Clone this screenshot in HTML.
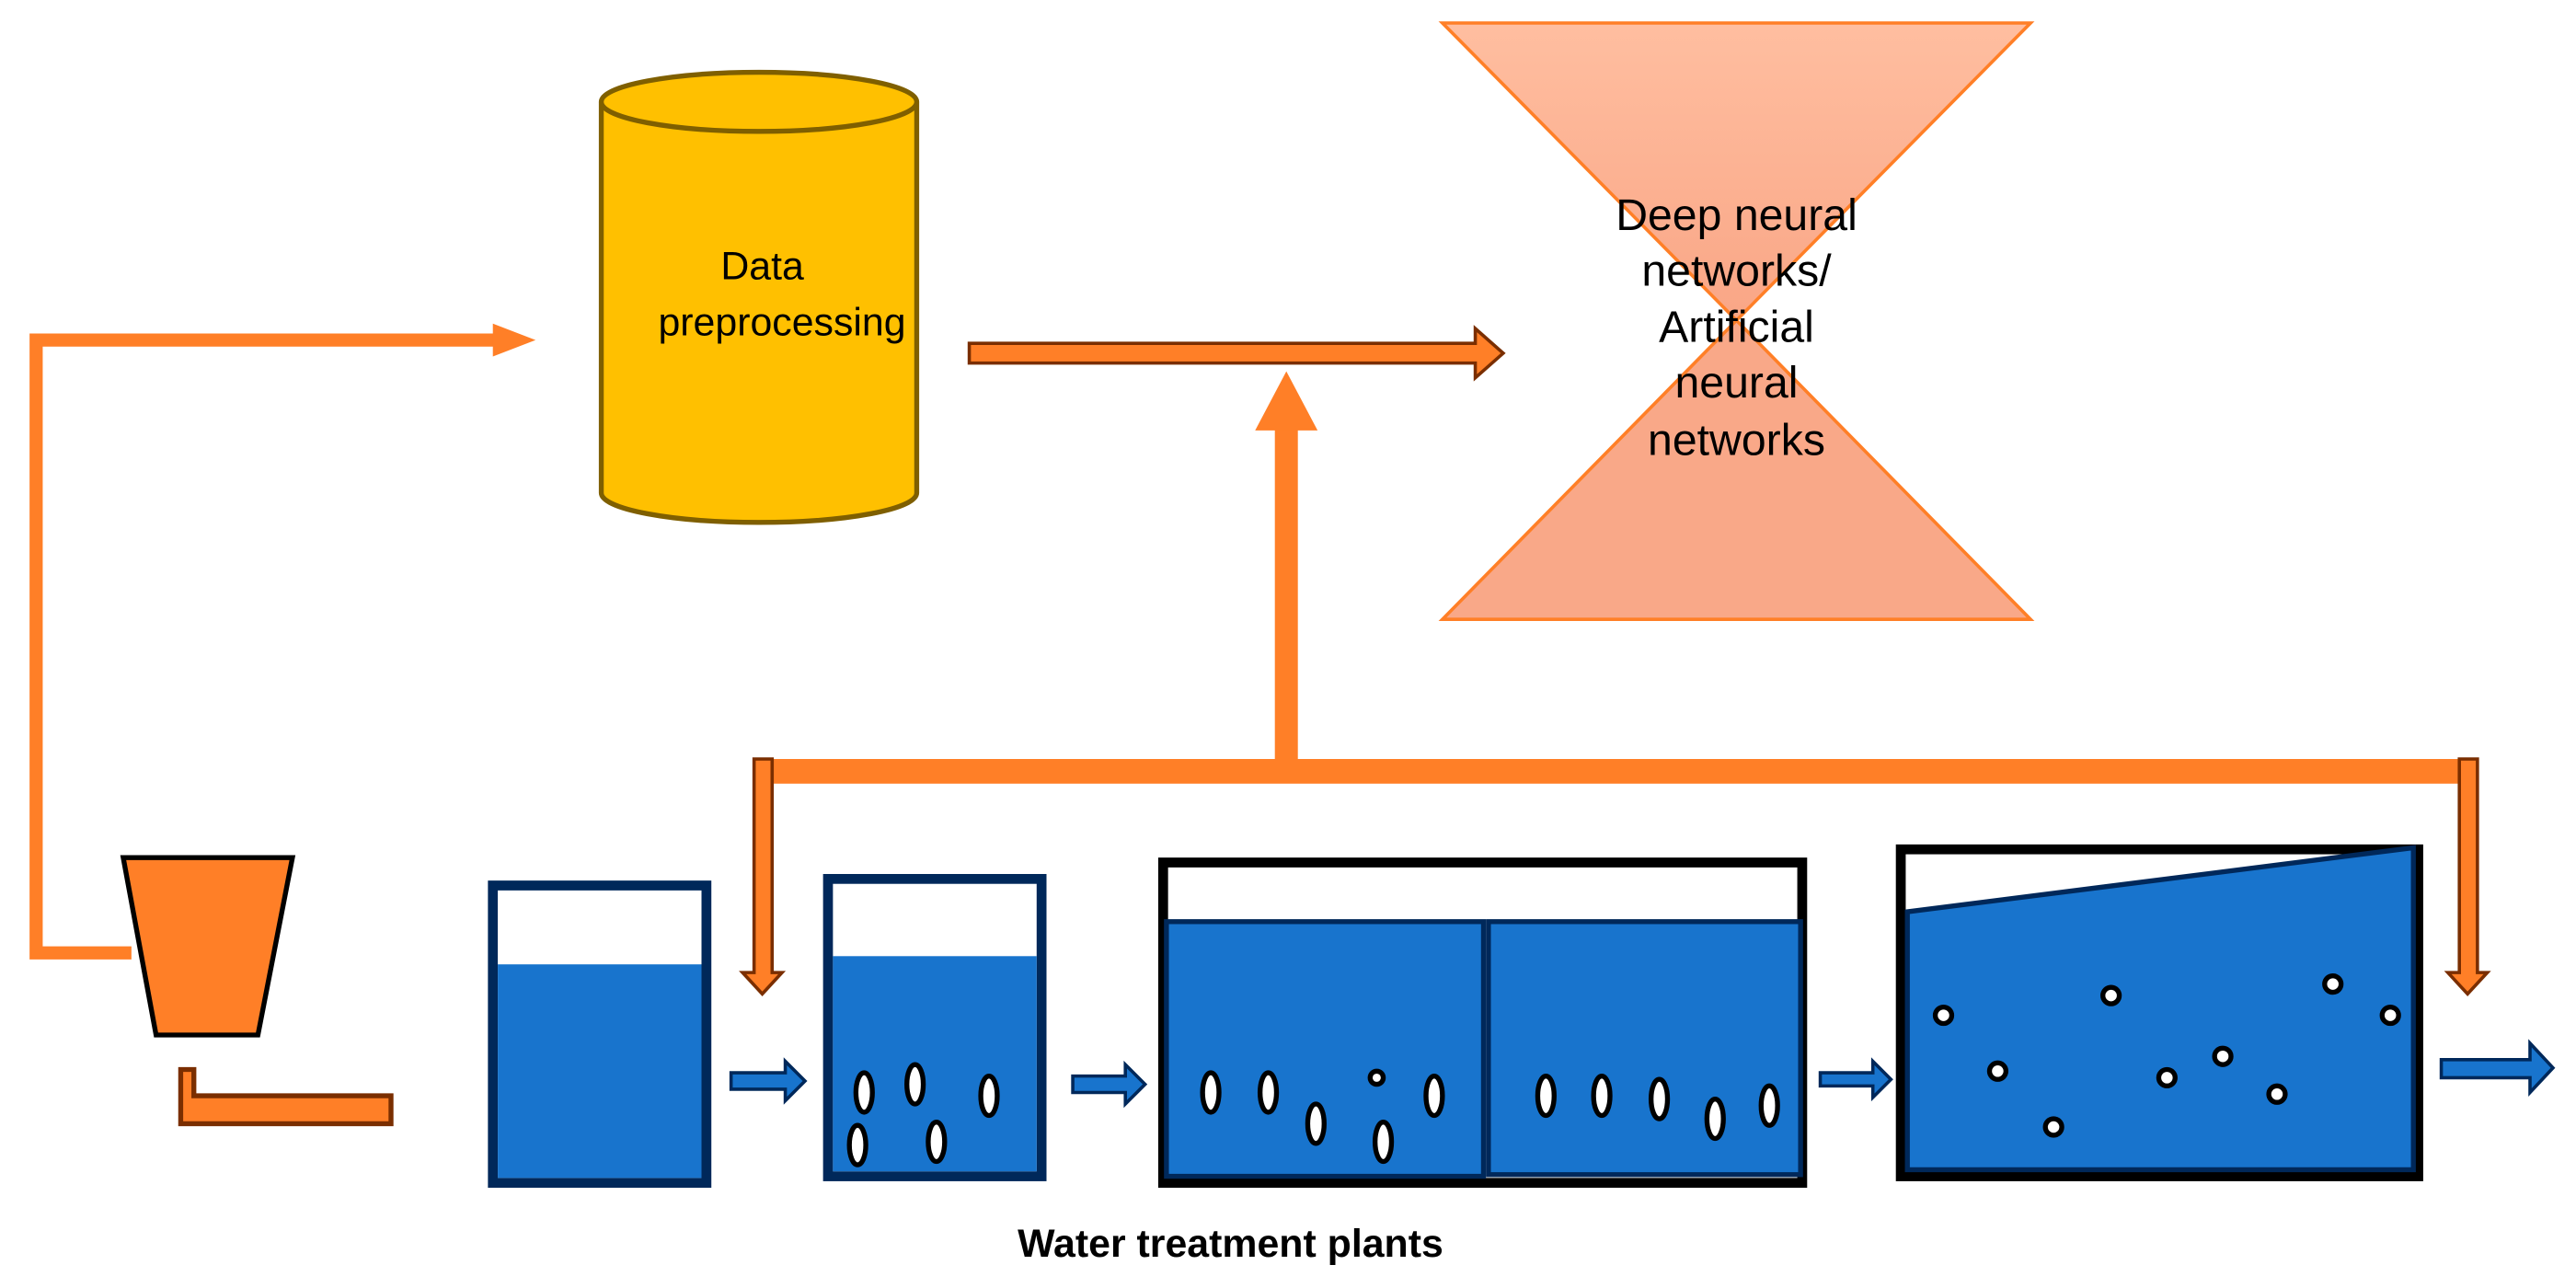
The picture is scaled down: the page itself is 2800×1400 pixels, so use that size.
<!DOCTYPE html>
<html><head><meta charset="utf-8"><style>html,body{margin:0;padding:0;background:#fff}svg{display:block}</style></head>
<body>
<svg width="2800" height="1400" viewBox="0 0 1568 784" xmlns="http://www.w3.org/2000/svg">
<defs>
<linearGradient id="hg" x1="0" y1="0" x2="0" y2="1"><stop offset="0" stop-color="#FFBEA0"/><stop offset="1" stop-color="#F9A686"/></linearGradient>
</defs>
<rect width="1568" height="784" fill="#fff"/>
<polyline points="80,580 22,580 22,207 302,207" fill="none" stroke="#FF7F27" stroke-width="8"/>
<polygon points="300,197 326,207 300,217" fill="#FF7F27"/>
<path d="M366,62 L366,300 A96,18 0 0 0 558,300 L558,62" fill="#FFC000" stroke="#7F5F00" stroke-width="3"/>
<ellipse cx="462" cy="62" rx="96" ry="18" fill="#FFC000" stroke="#7F5F00" stroke-width="3"/>
<g font-family="Liberation Sans, sans-serif" font-size="24" text-anchor="middle" fill="#000">
<text x="464" y="170">Data</text><text x="476" y="204">preprocessing</text>
</g>
<polygon points="590,209 898,209 898,200 915,215 898,230 898,221 590,221" fill="#FF7F27" stroke="#7A2E00" stroke-width="2"/>
<polygon points="878,14 1236,14 1057,195" fill="url(#hg)" stroke="#FF7F27" stroke-width="2"/>
<polygon points="1057,195 1236,377 878,377" fill="#F9A888" stroke="#FF7F27" stroke-width="2"/>
<g font-family="Liberation Sans, sans-serif" font-size="27" text-anchor="middle" fill="#000">
<text x="1057" y="140">Deep neural</text><text x="1057" y="174">networks/</text><text x="1057" y="208">Artificial</text><text x="1057" y="242">neural</text><text x="1057" y="277">networks</text>
</g>
<rect x="776" y="260" width="14" height="208" fill="#FF7F27"/>
<polygon points="764,262 802,262 783,226" fill="#FF7F27"/>
<rect x="470" y="462" width="1038" height="15" fill="#FF7F27"/>
<polygon points="459,462 470,462 470,592 476,592 464,605 452,592 459,592" fill="#FF7F27" stroke="#7A2E00" stroke-width="2"/>
<polygon points="1497,462 1508,462 1508,592 1514,592 1502,605 1490,592 1497,592" fill="#FF7F27" stroke="#7A2E00" stroke-width="2"/>
<polygon points="75,522 178,522 157,630 95,630" fill="#FF7F27" stroke="#000" stroke-width="3"/>
<polygon points="110,651 118,651 118,667 238,667 238,684 110,684" fill="#FF7F27" stroke="#7A2E00" stroke-width="3"/>
<rect x="300" y="539" width="130" height="181" fill="#fff" stroke="#00285A" stroke-width="6"/>
<rect x="303" y="587" width="124" height="130" fill="#1874CD"/>
<rect x="504" y="535" width="130" height="181" fill="#fff" stroke="#00285A" stroke-width="6"/>
<rect x="507" y="582" width="124" height="131" fill="#1874CD"/>
<rect x="708" y="525" width="389" height="195" fill="#fff" stroke="#000" stroke-width="6"/>
<rect x="710" y="561" width="193" height="155" fill="#1874CD" stroke="#00285A" stroke-width="3"/>
<rect x="906" y="561" width="190" height="154" fill="#1874CD" stroke="#00285A" stroke-width="3"/>
<rect x="1157" y="517" width="315" height="199" fill="#fff" stroke="#000" stroke-width="6"/>
<polygon points="1161,555 1469,516 1469,712 1161,712" fill="#1874CD" stroke="#00285A" stroke-width="3"/>
<g fill="#1874CD" stroke="#00285A" stroke-width="2">
<polygon points="445,653 478,653 478,646 490,658 478,670 478,663 445,663"/>
<polygon points="653,655 685,655 685,648 697,660 685,672 685,665 653,665"/>
<polygon points="1108,653 1140,653 1140,646 1151,657 1140,668 1140,661 1108,661"/>
<polygon points="1486,645 1540,645 1540,635 1554,650 1540,665 1540,656 1486,656"/>
</g>
<g fill="#fff" stroke="#000" stroke-width="3">
<ellipse cx="526" cy="665" rx="5" ry="12"/><ellipse cx="557" cy="660" rx="5" ry="12"/><ellipse cx="602" cy="667" rx="5" ry="12"/>
<ellipse cx="522" cy="697" rx="5" ry="12"/><ellipse cx="570" cy="695" rx="5" ry="12"/>
<ellipse cx="737" cy="665" rx="5" ry="12"/><ellipse cx="772" cy="665" rx="5" ry="12"/><ellipse cx="801" cy="684" rx="5" ry="12"/>
<ellipse cx="838" cy="656" rx="4" ry="4"/><ellipse cx="842" cy="695" rx="5" ry="12"/><ellipse cx="873" cy="667" rx="5" ry="12"/>
<ellipse cx="941" cy="667" rx="5" ry="12"/><ellipse cx="975" cy="667" rx="5" ry="12"/><ellipse cx="1010" cy="669" rx="5" ry="12"/>
<ellipse cx="1044" cy="681" rx="5" ry="12"/><ellipse cx="1077" cy="673" rx="5" ry="12"/>
<circle cx="1183" cy="618" r="5"/><circle cx="1216" cy="652" r="5"/><circle cx="1250" cy="686" r="5"/>
<circle cx="1285" cy="606" r="5"/><circle cx="1319" cy="656" r="5"/><circle cx="1353" cy="643" r="5"/>
<circle cx="1386" cy="666" r="5"/><circle cx="1420" cy="599" r="5"/><circle cx="1455" cy="618" r="5"/>
</g>
<text x="749" y="765" font-family="Liberation Sans, sans-serif" font-size="24" font-weight="bold" text-anchor="middle" fill="#000">Water treatment plants</text>
</svg>
</body></html>
